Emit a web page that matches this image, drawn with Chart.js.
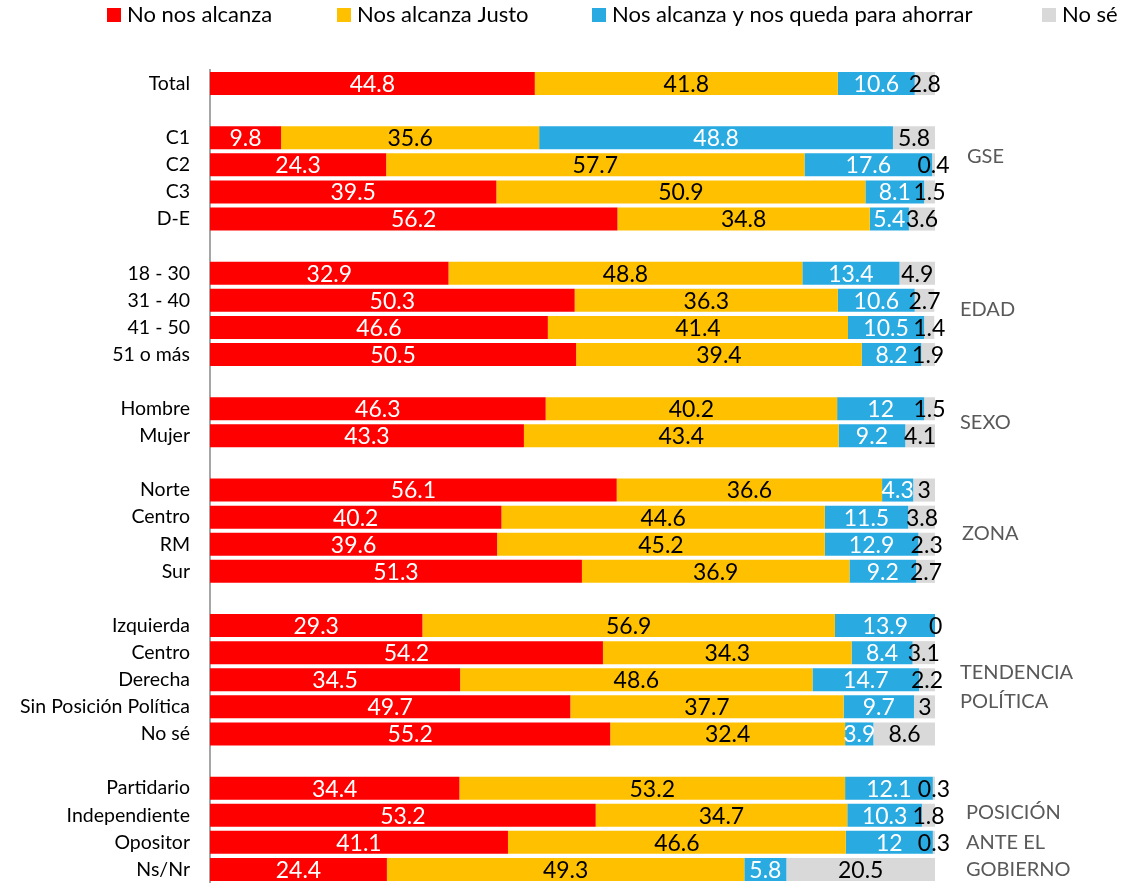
<!DOCTYPE html>
<html>
<head>
<meta charset="utf-8">
<script src="https://cdn.jsdelivr.net/npm/chart.js@4"></script>
<style>
    html, body { margin: 0; padding: 0; background: #fff; }
    canvas { display: block; }
</style>
</head>
<body>
<canvas id="chart" width="1122" height="883"></canvas>
<script>
// categories, '' rows are the gaps between groups
const categories = [
    'Total', '',
    'C1', 'C2', 'C3', 'D-E', '',
    '18 - 30', '31 - 40', '41 - 50', '51 o más', '',
    'Hombre', 'Mujer', '',
    'Norte', 'Centro', 'RM', 'Sur', '',
    'Izquierda', 'Centro', 'Derecha', 'Sin Posición Política', 'No sé', '',
    'Partidario', 'Independiente', 'Opositor', 'Ns/Nr'
];

const seriesNames = ['No nos alcanza', 'Nos alcanza Justo', 'Nos alcanza y nos queda para ahorrar', 'No sé'];

const noAlcanza = [
    44.8, null,
    9.8, 24.3, 39.5, 56.2, null,
    32.9, 50.3, 46.6, 50.5, null,
    46.3, 43.3, null,
    56.1, 40.2, 39.6, 51.3, null,
    29.3, 54.2, 34.5, 49.7, 55.2, null,
    34.4, 53.2, 41.1, 24.4
];
const alcanzaJusto = [
    41.8, null,
    35.6, 57.7, 50.9, 34.8, null,
    48.8, 36.3, 41.4, 39.4, null,
    40.2, 43.4, null,
    36.6, 44.6, 45.2, 36.9, null,
    56.9, 34.3, 48.6, 37.7, 32.4, null,
    53.2, 34.7, 46.6, 49.3
];
const alcanzaAhorrar = [
    10.6, null,
    48.8, 17.6, 8.1, 5.4, null,
    13.4, 10.6, 10.5, 8.2, null,
    12, 9.2, null,
    4.3, 11.5, 12.9, 9.2, null,
    13.9, 8.4, 14.7, 9.7, 3.9, null,
    12.1, 10.3, 12, 5.8
];
const noSe = [
    2.8, null,
    5.8, 0.4, 1.5, 3.6, null,
    4.9, 2.7, 1.4, 1.9, null,
    1.5, 4.1, null,
    3, 3.8, 2.3, 2.7, null,
    0, 3.1, 2.2, 3, 8.6, null,
    0.3, 1.8, 0.3, 20.5
];

// group names shown at the right of the bars
const groupNames = ['GSE', 'EDAD', 'SEXO', 'ZONA', 'TENDENCIA', 'POLÍTICA', 'POSICIÓN', 'ANTE EL', 'GOBIERNO'];
const groupRows = [2.7, 8.35, 12.5, 16.6, 21.75, 22.8, 26.9, 28, 29];
const groupX = [967, 960, 960, 962, 960, 960, 966, 966, 966];

const colors = ['#FF0000', '#FFC000', '#29ABE2', '#D9D9D9'];
const labelColors = ['#FFFFFF', '#000000', '#FFFFFF', '#000000'];

Chart.defaults.font.family = 'Lato, "Open Sans", sans-serif';

// value labels centred on every segment
const segmentLabels = {
    id: 'segmentLabels',
    afterDatasetsDraw(chart) {
        const ctx = chart.ctx;
        ctx.save();
        ctx.font = '23px Lato, sans-serif';
        ctx.textAlign = 'center';
        ctx.textBaseline = 'middle';
        chart.data.datasets.forEach((ds, i) => {
            const meta = chart.getDatasetMeta(i);
            meta.data.forEach((bar, j) => {
                const v = ds.data[j];
                if (v === null || v === undefined) return;
                const x = (bar.x + bar.base) / 2;
                ctx.fillStyle = labelColors[i];
                ctx.fillText(String(v), x, bar.y + 1);
            });
        });
        ctx.restore();
    }
};

// legend along the top and the group names on the right
const extraText = {
    id: 'extraText',
    afterDraw(chart) {
        const ctx = chart.ctx;
        const legendX = [107, 337, 592, 1042];
        ctx.save();
        ctx.font = '22px Lato, sans-serif';
        ctx.textBaseline = 'middle';
        ctx.textAlign = 'left';
        chart.data.datasets.forEach((ds, i) => {
            ctx.fillStyle = ds.backgroundColor;
            ctx.fillRect(legendX[i], 8, 14, 14);
            ctx.fillStyle = '#000';
            ctx.fillText(ds.label, legendX[i] + 20, 15);
        });

        const yScale = chart.scales.y;
        ctx.font = '20px Lato, sans-serif';
        ctx.fillStyle = '#595959';
        groupNames.forEach((name, i) => {
            ctx.fillText(name, groupX[i], yScale.getPixelForValue(groupRows[i]));
        });
        ctx.restore();
    }
};

const seriesData = [noAlcanza, alcanzaJusto, alcanzaAhorrar, noSe];

new Chart(document.getElementById('chart'), {
    type: 'bar',
    data: {
        labels: categories,
        datasets: seriesNames.map((name, i) => ({
            label: name,
            data: seriesData[i],
            backgroundColor: colors[i],
            borderWidth: 0,
            barPercentage: 1,
            categoryPercentage: 0.85
        }))
    },
    options: {
        indexAxis: 'y',
        responsive: false,
        animation: false,
        layout: {
            padding: { top: 70, right: 187, bottom: 0, left: 0 }
        },
        plugins: {
            legend: { display: false },
            tooltip: { enabled: false }
        },
        scales: {
            x: {
                stacked: true,
                min: 0,
                max: 100,
                display: false
            },
            y: {
                stacked: true,
                grid: { display: false, drawTicks: false },
                border: { display: true, color: '#A6A6A6', width: 2 },
                ticks: {
                    color: '#000',
                    padding: 20,
                    autoSkip: false,
                    font: { size: 19.5 }
                },
                afterFit(scale) {
                    // fixed axis width, and no extra vertical padding from the tick labels
                    scale.width = 210;
                    scale.paddingTop = 0;
                    scale.paddingBottom = 0;
                }
            }
        }
    },
    plugins: [segmentLabels, extraText]
});
</script>
</body>
</html>
